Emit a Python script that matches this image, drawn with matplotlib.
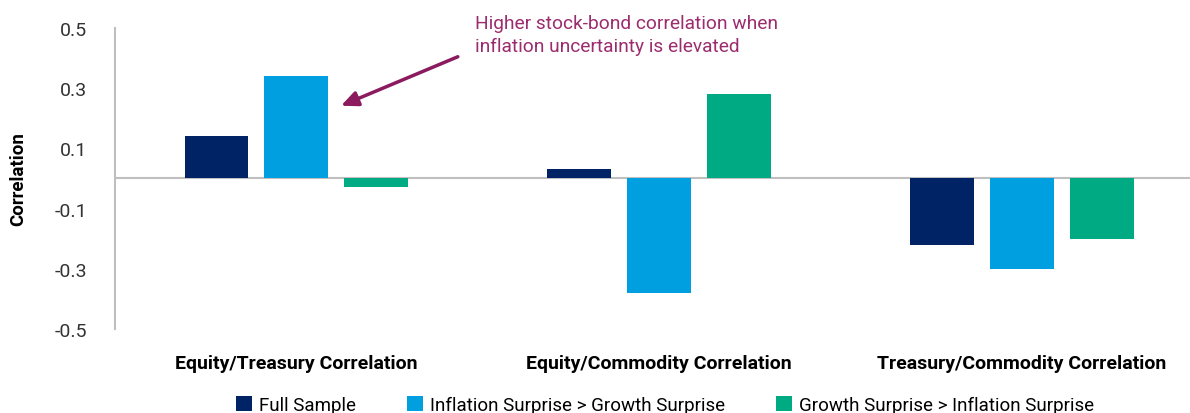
import matplotlib.pyplot as plt
import numpy as np

categories = ['Equity/Treasury Correlation', 'Equity/Commodity Correlation', 'Treasury/Commodity Correlation']
series_names = ['Full Sample', 'Inflation Surprise > Growth Surprise', 'Growth Surprise > Inflation Surprise']
full_sample = [0.14, 0.03, -0.22]
inflation_gt_growth = [0.34, -0.38, -0.30]
growth_gt_inflation = [-0.03, 0.28, -0.20]
yticks = [-0.5, -0.3, -0.1, 0.1, 0.3, 0.5]

colors = ['#002366', '#009FDF', '#00AB84']

plt.rcParams['font.family'] = ['Roboto', 'DejaVu Sans']

fig = plt.figure(figsize=(11.9, 4.14), dpi=100)
ax = fig.add_axes([0.0966, 0.203, 0.9034, 0.727])

x = np.arange(len(categories))
width = 0.176
step = 0.22
for i, (vals, name) in enumerate(zip([full_sample, inflation_gt_growth, growth_gt_inflation], series_names)):
    ax.bar(x + (i - 1) * step, vals, width, color=colors[i], label=name)

ax.set_xlim(-0.5, 2.463)
ax.set_ylim(-0.5, 0.5)
ax.set_yticks(yticks)
ax.set_yticklabels([f'{t:.1f}' for t in yticks], fontsize=14, color='#333333')
ax.tick_params(axis='y', length=0, pad=20)
ax.set_xticks(x)
ax.set_xticklabels(categories, fontsize=14, fontweight='bold')
ax.tick_params(axis='x', length=0, pad=18)
ax.axhline(0, color='#BFBFBF', lw=1.5, zorder=0)

for s in ['top', 'right', 'bottom']:
    ax.spines[s].set_visible(False)
ax.spines['left'].set_color('#BFBFBF')
ax.spines['left'].set_linewidth(1.5)

ax.set_ylabel('Correlation', fontsize=13.5, fontweight='bold', labelpad=20)

ax.annotate('', xy=(0.116, 0.238), xytext=(0.452, 0.408),
            arrowprops=dict(arrowstyle='-|>,head_width=0.45,head_length=1.0', color='#8B1A5E', lw=2.5),
            annotation_clip=False)
ax.text(0.493, 0.478, 'Higher stock-bond correlation when\ninflation uncertainty is elevated',
        fontsize=13.8, color='#9B2C6E', va='center', ha='left', linespacing=1.3, clip_on=False)

fig.legend(loc='center', bbox_to_anchor=(0.559, 0.02), ncol=3, frameon=False, fontsize=13.5,
           handlelength=0.85, handleheight=0.85, columnspacing=2.7, handletextpad=0.4)

fig.savefig('out.png', dpi=100)
